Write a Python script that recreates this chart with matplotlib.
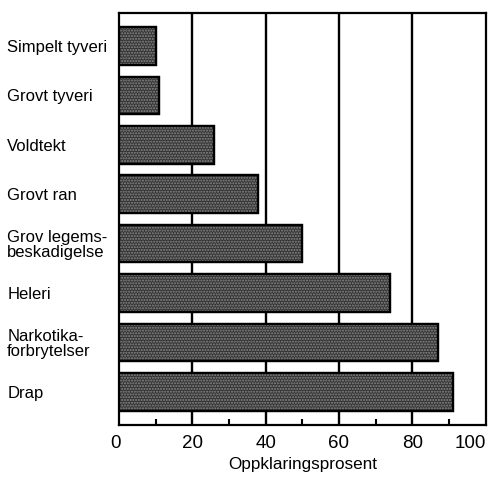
import numpy as np
import matplotlib
matplotlib.use("Agg")
import matplotlib.pyplot as plt
from matplotlib.ticker import MultipleLocator
from matplotlib.transforms import ScaledTranslation

categories = ["Simpelt tyveri", "Grovt tyveri", "Voldtekt", "Grovt ran",
              "Grov legems-\nbeskadigelse", "Heleri", "Narkotika-\nforbrytelser", "Drap"]
values = [10, 11, 26, 38, 50, 74, 87, 91]
xticks = [0, 20, 40, 60, 80, 100]

plt.rcParams['font.family'] = ['Liberation Sans', 'DejaVu Sans']

fig = plt.figure(figsize=(4.97, 4.82), dpi=100)
ax = fig.add_axes([0.2394, 0.1183, 0.977 - 0.2394, 0.973 - 0.1183])

y = np.arange(len(categories))

for gx in xticks[1:-1]:
    ax.axvline(gx, color="black", lw=1.7, zorder=1)

ax.barh(y, values, height=0.76, color="#333333", edgecolor="black",
        linewidth=1.6, zorder=2)
# halftone texture
ax.barh(y, values, height=0.76, color="none", edgecolor="#8a8a8a",
        linewidth=0, hatch="......", zorder=3)
ax.barh(y, values, height=0.76, color="none", edgecolor="black",
        linewidth=1.6, zorder=4)

ax.set_xlim(0, 100)
ax.set_ylim(len(categories) - 1 + 0.667, -0.667)
ax.set_xticks(xticks)
ax.xaxis.set_minor_locator(MultipleLocator(10))
ax.tick_params(axis="x", which="major", length=0, labelsize=13.5, pad=7)
ax.tick_params(axis="x", which="minor", direction="in", length=4, width=1.5)

xlabels = ax.get_xticklabels()
xlabels[0].set_transform(xlabels[0].get_transform() +
                         ScaledTranslation(-3 / 100, 0, fig.dpi_scale_trans))
xlabels[-1].set_horizontalalignment("right")

ax.set_yticks(y)
ax.set_yticklabels(categories, ha="left", fontsize=12, linespacing=1.0)
ax.tick_params(axis="y", length=0, pad=80.5)

for s in ax.spines.values():
    s.set_linewidth(1.6)

ax.set_xlabel("Oppklaringsprosent", fontsize=12.3, labelpad=4)

fig.savefig("out.png", dpi=100)
